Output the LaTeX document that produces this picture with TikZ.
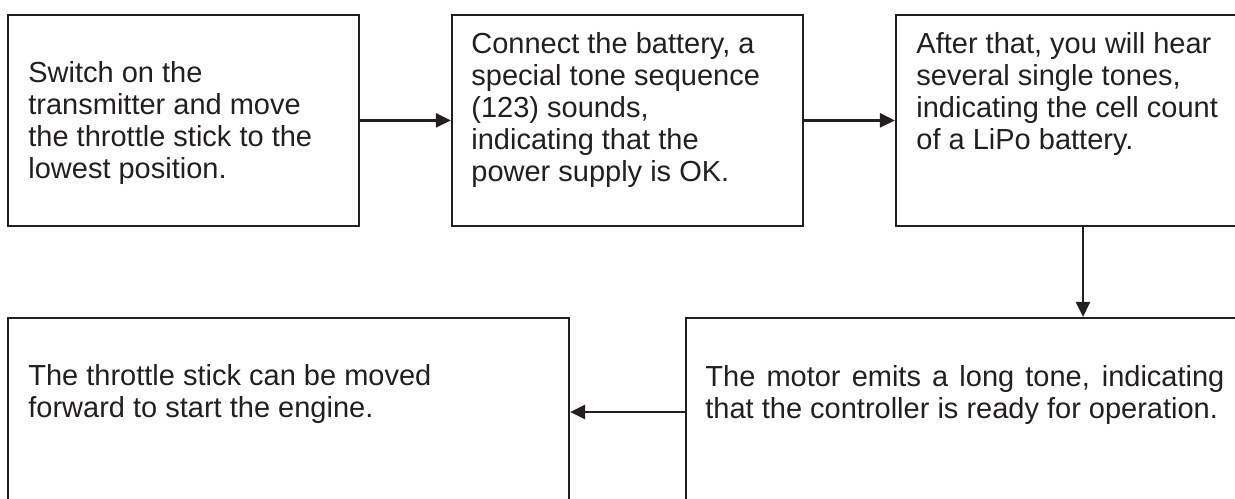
\documentclass[tikz,border=0pt]{standalone}
\usepackage{fontspec}
\setmainfont{Liberation Sans}
\usetikzlibrary{arrows.meta}
\definecolor{inkgray}{HTML}{231F20}
\tikzset{
  stage/.style={draw=inkgray, line width=1.1pt, inner sep=0pt, minimum height=105.4pt},
  stagelow/.style={stage, minimum height=94pt},
  note/.style={anchor=north west, align=left, inner sep=0pt, text=inkgray,
    font=\fontsize{14.5pt}{16pt}\selectfont},
  flow/.style={draw=inkgray, line width=1.2pt, -{Triangle[length=7.5pt,width=7pt]}}
}
\begin{document}
\begin{tikzpicture}[x=0.5pt,y=-0.5pt]
\useasboundingbox (0,0) rectangle (1235,498);
\clip (0,0) rectangle (1235,498);
% top row
\node[stage, minimum width=175.5pt] (b1) at (183.8,120.4) {};
\node[stage, minimum width=175.5pt] (b2) at (627.5,120.4) {};
\node[stage, minimum width=187pt] (b3) at (1083,120.4) {};
% bottom row, runs off the page
\node[stagelow, minimum width=397pt] (b4) at (1083,412) {};
\node[stagelow, minimum width=280.4pt] (b5) at (288.6,412) {};

\node[note] (t1) at (28,61) {Switch on the\\transmitter and move\\the throttle stick to the\\lowest position.};
\node[note] (t2) at (471,32) {Connect the battery, a\\special tone sequence\\(123) sounds,\\indicating that the\\power supply is OK.};
\node[note] (t3) at (916,32.5) {After that, you will hear\\several single tones,\\indicating the cell count\\of a LiPo battery.};
\node[note] (t4) at (705,365.5) {\makebox[259.5pt][s]{The motor emits a long tone, indicating}\\that the controller is ready for operation.};
\node[note] (t5) at (28,364.5) {The throttle stick can be moved\\forward to start the engine.};

\draw[flow] (b1.east) -- (b2.west);
\draw[flow] (b2.east) -- (b3.west);
\draw[flow] (b3.south) -- (b4.north);
\draw[flow] (b4.west) -- (b5.east);
\end{tikzpicture}
\end{document}
